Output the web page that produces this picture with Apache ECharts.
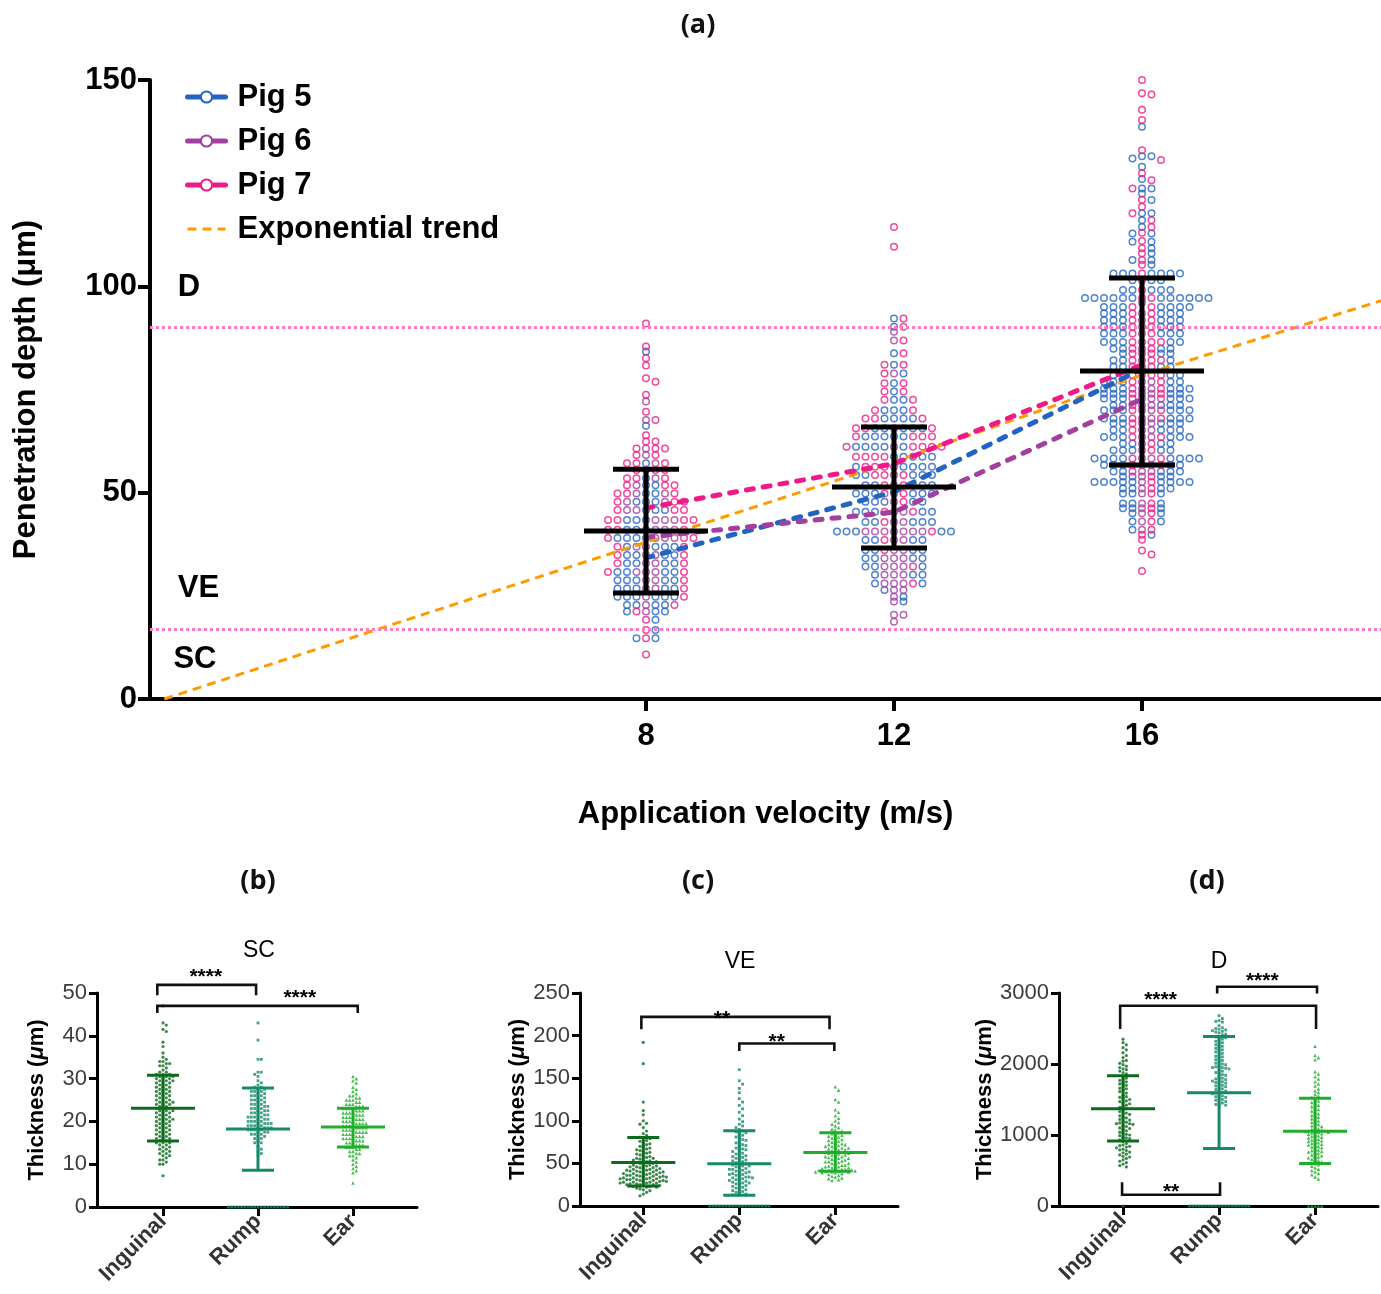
<!DOCTYPE html>
<html><head><meta charset="utf-8">
<script src="https://cdn.jsdelivr.net/npm/echarts@6/dist/echarts.min.js"></script>
<style>html,body{margin:0;padding:0;background:#fff}#c{width:1381px;height:1294px}</style>
</head><body><div id="c"></div>
<script>
// ---------- (a) data ----------
const velocities = [8, 12, 16];
const pigNames = ['Pig 5', 'Pig 6', 'Pig 7'];
const pig5Means = [34.2, 50.2, 80];
const pig6Means = [39.2, 45.3, 72.7];
const pig7Means = [46.3, 57, 81];
const trendX = [0.23, 4, 8, 12, 16, 19.855];
const trendY = [0, 18.5, 38, 57.5, 78.5, 96.5];
const allMean = [40.7, 51.4, 79.5];
const allUpper = [55.7, 65.9, 102];
const allLower = [25.7, 36.6, 56.7];
const layerLines = [90, 17];
const layerNames = ['D', 'VE', 'SC'];
const layerX = [0.44, 0.44, 0.37];
const layerY = [99.8, 26.9, 9.5];

const p5v8 = [84.2,66.2,57.1,53.5,51.8,51.8,49.8,49.8,47.8,47.8,47.8,45.8,45.8,45.8,43.4,43.4,43.4,41,41,41,39,39,39,39,36.9,36.9,36.9,36.9,34.9,34.9,34.9,34.9,32.9,32.9,32.9,32.9,30.8,30.8,30.8,30.8,28.8,28.8,28.8,28.8,28.8,26.8,26.8,26.8,26.8,26.8,24.8,24.8,24.8,24.8,24.8,24.8,22.8,22.8,22.8,22.8,21.2,21.2,21.2,19.2,16.7,14.7,14.7];
const p6v8 = [72.1,67.6,60.7,59.1,57.1,55.5,53.5,51.8,49.8,49.8,47.8,47.8,45.8,45.8,43.4,43.4,43.4,41,41,41,39,39,39,36.9,36.9,34.9,34.9,32.9,32.9,30.8,30.8,30.8,28.8,28.8,26.8,26.8,24.8,22.8,21.2];
const p7v8 = [91,85.4,82.6,80.8,77.7,76.9,73.7,69.6,67.6,63.9,62.4,62.4,60.7,60.7,60.7,59.1,59.1,57.1,57.1,57.1,55.5,55.5,55.5,53.5,53.5,53.5,51.8,51.8,51.8,49.8,49.8,49.8,47.8,47.8,47.8,45.8,45.8,45.8,43.4,43.4,43.4,43.4,41,41,41,39,39,39,36.9,36.9,34.9,34.9,32.9,32.9,30.8,30.8,28.8,26.8,24.8,22.8,21.2,19.2,16.7,14.7,10.8];
const p5v12 = [92.2,90.2,83.8,81,78.9,76.5,74.5,72.5,72.5,70,70,70,68,68,68,68,65.6,65.6,65.6,65.6,65.6,63.6,63.6,63.6,63.6,63.6,61.1,61.1,61.1,61.1,61.1,58.7,58.7,58.7,58.7,58.7,56.3,56.3,56.3,56.3,56.3,54.3,54.3,54.3,54.3,54.3,51.8,51.8,51.8,51.8,51.8,49.8,49.8,49.8,49.8,49.8,49.8,47.8,47.8,47.8,47.8,47.8,45.4,45.4,45.4,45.4,45.4,42.9,42.9,42.9,42.9,42.9,40.6,40.6,40.6,40.6,40.6,38.5,38.5,38.5,38.5,36.1,36.1,36.1,36.1,34.1,34.1,34.1,34.1,32.1,32.1,32.1,30.1,30.1,30.1,28,28,26.4,24.8,23.6];
const p6v12 = [89,86.9,78.9,65.6,61.1,56.3,54.3,51.8,49.8,47.8,45.4,45.4,42.9,42.9,40.6,40.6,40.6,40.6,40.6,40.6,40.6,38.5,38.5,36.1,36.1,34.1,34.1,34.1,32.1,32.1,32.1,30.1,30.1,30.1,28,28,28,26.4,26.4,24.8,23.6,20.4,20.4,18.7];
const p7v12 = [114.4,109.6,92.2,90.2,86.9,83.8,81,81,78.9,76.5,76.5,74.5,74.5,72.5,72.5,70,70,68,68,68,65.6,65.6,65.6,63.6,63.6,63.6,63.6,61.1,61.1,61.1,61.1,61.1,58.7,58.7,58.7,58.7,56.3,56.3,56.3,54.3,54.3,54.3,51.8,51.8,49.8,49.8,47.8,45.4,45.4,42.9,40.6,38.5,36.1,32.1,28];
const p5v16 = [138.7,131.5,131.5,131,129,126,123.7,123.7,122.5,120.9,117.7,117.7,116,114.4,112.8,112.8,110.8,110.8,109.2,108,106.4,106.4,105.2,103.1,103.1,103.1,103.1,103.1,103.1,103.1,101.5,101.5,101.5,99.1,99.1,99.1,99.1,99.1,
97.2,97.2,97.2,97.2,97.2,97.2,97.2,97.2,97.2,97.2,97.2,97.2,95,95,95,95,95,95,95,93.4,93.4,93.4,93.4,93.4,93.4,91.8,91.8,91.8,91.8,91.8,91.8,90.2,90.2,90.2,90.2,90.2,90.2,88.6,88.6,88.6,88.6,88.6,88.6,86.5,86.5,86.5,86.5,86.5,84.9,84.9,84.9,84.9,83.7,83.7,83.7,82.1,82.1,82.1,80.5,80.5,80.5,80.5,78.5,78.5,78.5,78.5,76.9,76.9,76.9,76.9,76.9,75.2,75.2,75.2,75.2,75.2,75.2,74,74,74,74,74,72.8,72.8,72.8,72.8,72.8,72.8,71.2,71.2,71.2,71.2,71.2,70,70,70,70,70,70,68,68,68,68,68,68,66.8,66.8,66.8,66.8,66.8,65.2,65.2,65.2,65.2,65.2,63.5,63.5,63.5,63.5,63.5,63.5,61.9,61.9,61.9,61.9,60.3,60.3,60.3,60.3,60.3,58.3,58.3,58.3,58.3,58.3,58.3,58.3,58.3,56.7,56.7,56.7,56.7,56.7,55.1,55.1,55.1,55.1,55.1,53.9,53.9,53.9,53.9,52.6,52.6,52.6,52.6,52.6,52.6,52.6,52.6,52.6,51,51,51,51,49.8,49.8,49.8,47.4,47.4,47.4,46.2,46.2,46.2,45,45,43,43,41,39.8];
const p6v16 = [96,93.4,91.8,90.2,88.6,86.5,84.9,83.7,82.1,80.5,78.5,76.9,76.9,75.2,75.2,74,74,72.8,72.8,71.2,71.2,70,70,68,68,66.8,66.8,65.2,65.2,63.5,63.5,61.9,60.3,58.3,58.3,56.7,56.7,55.1,55.1,53.9,52.6,51,49.8,47.4,46.2,45,43,41];
const p7v16 = [150,146.8,146.5,142.8,140.3,133,130.6,127.4,125.7,123.7,121,119.3,117.7,116,114.4,113,111,109.2,108,106.4,105.2,103.1,101.5,99.1,97.2,97.2,95,95,93.4,93.4,91.8,91.8,90.2,90.2,88.6,88.6,86.5,86.5,86.5,84.9,84.9,83.7,83.7,82.1,82.1,82.1,80.5,80.5,78.5,78.5,78.5,76.9,76.9,75.2,75.2,74,74,72.8,72.8,71.2,70,70,68,68,66.8,65.2,63.5,63.5,61.9,60.3,58.3,58.3,56.7,56.7,55.1,53.9,52.6,51,49.8,47.4,46.2,45,43,41,39.8,38.6,36,35,31];

// ---------- (b)(c)(d) data ----------
const sites = ['Inguinal', 'Rump', 'Ear'];
const scIng = [47,43,42.5,41.5,41,38.5,37.5,36,35,34.5,34,34,33.5,33.5,33,33,32.5,32,31.5,31.5,31,31,31,30.5,30.5,30.5,30,30,30,29.5,29.5,29.5,29,29,29,28.5,28.5,28,28,28,27.5,27.5,27,27,27,26.5,26.5,26,26,26,25.5,25.5,25,25,25,24.5,24.5,24.5,24,24,24,23.5,23.5,23,23,23,22.5,22.5,22.5,22,22,22,21.5,21.5,21,21,21,20.5,20.5,20.5,20,20,20,19.5,19.5,19,19,19,18.5,18.5,18,18,18,17.5,17.5,17,17,17,16.5,16.5,16,16,16,15.5,15.5,15,15,15,14.5,14.5,14,14,13.5,13.5,13,13,12.5,12.5,12,12,11.5,11,11,10.5,10,10,7.3];
const scRump = [43,39,34.5,34.5,31.5,31.5,31,30.5,29.5,29,28.5,28,28,27.5,27.5,27,27,27,26.5,26.5,26,26,26,25.5,25.5,25,25,25,24.5,24.5,24,24,24,23.5,23.5,23.5,23,23,23,22.5,22.5,22.5,22,22,22,21.5,21.5,21.5,21,21,21,21,20.5,20.5,20.5,20,20,20,20,19.5,19.5,19.5,19.5,19,19,19,19,18.5,18.5,18.5,18.5,18,18,18,18,17.5,17.5,17.5,17,17,17,16.5,16.5,16,16,15.5,15,15,14,13.5,13,12.5,12,0,0,0,0,0,0,0,0,0,0,0,0,0,0,0,0,0,0,0];
const scEar = [30.5,30,29.5,29,28,27.5,27,26.5,26,26,25.5,25.5,25,25,25,24.5,24.5,24,24,24,23.5,23.5,23.5,23,23,23,23,22.5,22.5,22.5,22,22,22,22,21.5,21.5,21.5,21,21,21,21,20.5,20.5,20.5,20,20,20,20,19.5,19.5,19.5,19.5,19,19,19,19,18.5,18.5,18.5,18.5,18,18,18,18,17.5,17.5,17.5,17.5,17,17,17,17,16.5,16.5,16.5,16,16,16,16,15.5,15.5,15.5,15,15,15,14.5,14.5,14.5,14,14,14,13.5,13.5,13,13,12.5,12.5,12,12,11.5,11,10.5,10,9.5,9,8.5,8,5.6];
const veIng = [192,167,122,112,107,100,97,96,92,88,85,83,81,80,79,77,76,74,73,72,70,69,68,67,66,65,64,63,62,61,60,59,58,57,56,56,55,54,54,53,52,52,51,50,50,49,48,48,47,47,46,46,45,45,44,44,43,43,42,42,42,41,41,40,40,40,39,39,38,38,38,37,37,36,36,36,35,35,35,34,34,34,33,33,33,32,32,32,31,31,31,30,30,30,29,29,29,28,28,28,27,27,27,26,26,25,25,25,24,24,23,23,22,22,21,20,19,18,16,14,12];
const veRump = [160,147,143,138,133,126,122,118,114,110,106,102,99,96,94,92,90,88,87,86,85,83,81,80,78,77,75,74,72,71,70,68,67,66,65,64,62,61,60,59,58,57,56,55,54,53,52,51,50,49,48,47,47,46,45,44,43,43,42,41,40,40,39,38,37,37,36,35,34,34,33,33,32,31,30,30,29,28,27,27,26,25,24,23,22,21,20,19,18,17,16,15,14,13,0,0,0,0,0,0,0,0,0,0,0,0,0,0,0,0,0,0,0];
const veEar = [140,136,125,122,113,110,106,103,100,98,96,94,92,90,89,88,86,85,84,83,82,81,80,79,78,77,76,75,74,73,72,72,71,70,70,69,68,68,67,66,66,65,64,64,63,62,62,61,60,60,59,58,58,57,56,56,55,54,54,53,52,52,51,50,50,49,48,48,47,46,46,45,45,44,44,43,43,42,42,42,41,41,41,40,40,40,39,39,38,37,36,35,34,33,32,31,30];
const dIng = [2350,2300,2270,2230,2200,2160,2120,2090,2050,2040,2010,1990,1970,1950,1930,1920,1900,1880,1860,1830,1800,1780,1770,1750,1730,1720,1700,1680,1660,1650,1630,1610,1590,1560,1540,1530,1510,1500,1480,1470,1450,1440,1420,1400,1390,1370,1350,1330,1310,1300,1290,1270,1250,1240,1220,1210,1190,1180,1170,1160,1160,1150,1130,1120,1100,1090,1080,1060,1040,1030,1010,1000,990,970,960,950,930,910,880,860,850,840,830,820,800,790,780,760,750,730,720,700,690,670,650,630,610,590,570,550,0];
const dRump = [2680,2640,2610,2600,2590,2540,2510,2500,2490,2480,2470,2460,2450,2440,2420,2410,2390,2380,2370,2350,2340,2320,2300,2290,2270,2250,2240,2220,2200,2190,2170,2150,2130,2110,2100,2080,2060,2050,2030,2010,2000,1990,1970,1960,1950,1950,1940,1930,1920,1900,1880,1870,1850,1840,1820,1800,1790,1780,1770,1760,1750,1740,1730,1720,1700,1690,1680,1660,1650,1640,1620,1610,1600,1590,1580,1560,1550,1540,1530,1510,1500,1490,1470,1460,1450,1430,1420,1410,0,0,0,0,0,0,0,0,0,0,0,0,0,0,0,0,0,0,0];
const dEar = [2250,2120,2090,2060,1890,1860,1820,1790,1750,1720,1690,1650,1620,1600,1570,1550,1530,1500,1480,1460,1440,1420,1400,1380,1360,1340,1320,1300,1280,1260,1250,1230,1210,1200,1180,1160,1150,1130,1120,1100,1090,1080,1070,1060,1060,1050,1050,1040,1040,1030,1020,1010,1000,990,980,970,960,950,940,930,920,910,900,890,880,870,860,850,840,830,820,800,790,780,770,760,750,740,720,710,700,690,680,660,650,640,620,610,600,580,560,540,520,500,480,460,440,410,380,0,0,0,0,0];

const scMean = [23.1, 18.2, 18.7], scUpper = [30.8, 27.8, 23.1], scLower = [15.4, 8.6, 14.0];
const veMean = [51.2, 49.6, 62.9], veUpper = [80.5, 88.3, 86], veLower = [23.4, 12.5, 40.7];
const dMean = [1371, 1596, 1053], dUpper = [1835, 2386, 1516], dLower = [917, 810, 599];

// brackets: [xStart, xEnd, yBar, yEnd]
const scBrackets = [[-0.06, 0.98, 51.9, 49.5], [-0.06, 2.05, 47.0, 45.3]];
const scStars = [[0.45, 53.7, '****'], [1.44, 48.9, '****']];
const veBrackets = [[-0.02, 1.94, 222, 207.5], [1.0, 1.99, 190.7, 182]];
const veStars = [[0.82, 219.2, '**'], [1.39, 192.6, '**']];
const dBrackets = [[-0.03, 2.01, 2821, 2494], [0.98, 2.02, 3088, 2994], [-0.01, 1.01, 159, 333]];
const dStars = [[0.39, 2892, '****'], [1.45, 3172, '****'], [0.5, 201, '**']];

// ---------- layout helpers ----------
const FONT = 'Liberation Sans';
const pigColors = ['#2364c2', '#a2409f', '#ef1a86'];
const siteColors = ['#0b6a1d', '#15896a', '#1fad2b'];
const siteSymbols = ['circle', 'rect', 'triangle'];

function swarm(groups, center, pxPerUnit, colW, thr) {
  const pts = [];
  groups.forEach((arr, g) => arr.forEach((v, i) => pts.push({v, g, i})));
  pts.sort((a, b) => (b.v - a.v) || (a.i - b.i) || (a.g - b.g));
  const placed = [];
  const out = groups.map(() => []);
  for (const p of pts) {
    const py = p.v * pxPerUnit;
    for (let k = 0; k < 400; k++) {
      const col = k === 0 ? 0 : (k % 2 ? (k + 1) / 2 : -k / 2);
      let ok = true;
      for (const q of placed) { if (q.col === col && Math.abs(q.py - py) < thr) { ok = false; break; } }
      if (ok) { placed.push({col, py}); out[p.g].push([center + col * colW, p.v]); break; }
    }
  }
  return out;
}

const groupsByVel = [[p5v8, p6v8, p7v8], [p5v12, p6v12, p7v12], [p5v16, p6v16, p7v16]];
const pigPts = [[], [], []];
groupsByVel.forEach((grp, vi) => {
  const s = swarm(grp, velocities[vi], 619 / 150, 9.5 / 62, 4.5);
  s.forEach((arr, g) => pigPts[g].push(...arr));
});

const series = [];
pigPts.forEach((pts, g) => series.push({
  type: 'scatter', name: 'pts' + g, xAxisIndex: 0, yAxisIndex: 0, data: pts, z: 2,
  symbol: 'circle', symbolSize: 6.5, silent: true,
  itemStyle: {color: 'rgba(255,255,255,0)', borderColor: pigColors[g], borderWidth: 1.5}
}));
[pig5Means, pig6Means, pig7Means].forEach((m, g) => series.push({
  type: 'line', name: pigNames[g], xAxisIndex: 0, yAxisIndex: 0, z: 4,
  data: velocities.map((v, i) => [v, m[i]]),
  symbol: 'emptyCircle', symbolSize: 7, showSymbol: false,
  itemStyle: {color: pigColors[g], borderColor: pigColors[g], borderWidth: 1.5},
  lineStyle: {color: pigColors[g], width: 5, type: [7, 10], cap: 'round'}
}));
series.push({
  type: 'line', name: 'Exponential trend', xAxisIndex: 0, yAxisIndex: 0, z: 3,
  data: trendX.map((x, i) => [x, trendY[i]]), symbol: 'none',
  itemStyle: {color: '#ff9a00'},
  lineStyle: {color: '#ff9a00', width: 3, type: [9, 6]},
  markLine: {silent: true, symbol: 'none', label: {show: false}, animation: false,
    lineStyle: {color: '#ff7cc2', width: 3, type: [3, 3]},
    data: layerLines.map(y => ({yAxis: y}))}
});
series.push({
  type: 'custom', xAxisIndex: 0, yAxisIndex: 0, z: 6,
  data: velocities.map((v, i) => [v, allMean[i], allUpper[i], allLower[i]]),
  renderItem(p, api) {
    const x = api.value(0);
    const m = api.coord([x, api.value(1)]), u = api.coord([x, api.value(2)]), l = api.coord([x, api.value(3)]);
    const st = {stroke: '#000', lineWidth: 5};
    return {type: 'group', children: [
      {type: 'line', shape: {x1: m[0] - 62, y1: m[1], x2: m[0] + 62, y2: m[1]}, style: st},
      {type: 'line', shape: {x1: u[0], y1: u[1], x2: l[0], y2: l[1]}, style: st},
      {type: 'line', shape: {x1: u[0] - 33, y1: u[1], x2: u[0] + 33, y2: u[1]}, style: st},
      {type: 'line', shape: {x1: l[0] - 33, y1: l[1], x2: l[0] + 33, y2: l[1]}, style: st}
    ]};
  }
});
series.push({
  type: 'scatter', xAxisIndex: 0, yAxisIndex: 0, symbolSize: 1, silent: true, z: 7,
  itemStyle: {color: 'rgba(0,0,0,0)'},
  data: layerNames.map((n, i) => ({name: n, value: [layerX[i], layerY[i]]})),
  label: {show: true, position: 'right', distance: 0, formatter: p => p.name, opacity: 1,
    fontFamily: FONT, fontSize: 31, fontWeight: 'bold', color: '#000'}
});

function panel(gi, groups, mean, upper, lower, brackets, stars, pxPerUnit, colW) {
  groups.forEach((vals, c) => {
    const pts = swarm([vals], c, pxPerUnit, colW, 3.5)[0];
    series.push({type: 'scatter', xAxisIndex: gi, yAxisIndex: gi, data: pts, silent: true, clip: false, z: 3,
      symbol: siteSymbols[c], symbolSize: c === 2 ? 3.6 : (c === 1 ? 2.8 : 3.2),
      itemStyle: {color: siteColors[c]}});
  });
  series.push({type: 'custom', xAxisIndex: gi, yAxisIndex: gi, z: 5,
    data: mean.map((m, i) => [i, m, upper[i], lower[i]]),
    renderItem(p, api) {
      const x = api.value(0), col = siteColors[x];
      const m = api.coord([x, api.value(1)]), u = api.coord([x, api.value(2)]), l = api.coord([x, api.value(3)]);
      const st = {stroke: col, lineWidth: 3};
      return {type: 'group', children: [
        {type: 'line', shape: {x1: m[0] - 32, y1: m[1], x2: m[0] + 32, y2: m[1]}, style: st},
        {type: 'line', shape: {x1: u[0], y1: u[1], x2: l[0], y2: l[1]}, style: st},
        {type: 'line', shape: {x1: u[0] - 16, y1: u[1], x2: u[0] + 16, y2: u[1]}, style: st},
        {type: 'line', shape: {x1: l[0] - 16, y1: l[1], x2: l[0] + 16, y2: l[1]}, style: st}
      ]};
    }});
  series.push({type: 'custom', xAxisIndex: gi, yAxisIndex: gi, z: 5, clip: false,
    data: brackets,
    renderItem(p, api) {
      const a = api.coord([api.value(0), api.value(3)]), b = api.coord([api.value(0), api.value(2)]);
      const c = api.coord([api.value(1), api.value(2)]), d = api.coord([api.value(1), api.value(3)]);
      return {type: 'polyline', shape: {points: [a, b, c, d]}, style: {stroke: '#111', lineWidth: 2.6, fill: null}};
    }});
  series.push({type: 'scatter', xAxisIndex: gi, yAxisIndex: gi, symbolSize: 1, silent: true, clip: false, z: 6,
    itemStyle: {color: 'rgba(0,0,0,0)'},
    data: stars.map(s => ({name: s[2], value: [s[0], s[1]]})),
    label: {show: true, position: 'inside', formatter: p => p.name, opacity: 1,
      fontFamily: FONT, fontSize: 21, fontWeight: 'bold', color: '#000'}});
}
panel(1, [scIng, scRump, scEar], scMean, scUpper, scLower, scBrackets, scStars, 214 / 50, 3.3 / 95);
panel(2, [veIng, veRump, veEar], veMean, veUpper, veLower, veBrackets, veStars, 213.3 / 250, 3.3 / 96);
panel(3, [dIng, dRump, dEar], dMean, dUpper, dLower, dBrackets, dStars, 213.7 / 3000, 3.3 / 96);

function smallY(gi, max, interval) {
  return {type: 'value', gridIndex: gi, min: 0, max: max, interval: interval, splitLine: {show: false},
    axisLine: {show: true, onZero: false, lineStyle: {color: '#000', width: 3}},
    axisTick: {show: true, length: 8, lineStyle: {color: '#000', width: 3}},
    axisLabel: {fontFamily: FONT, fontSize: 22, color: '#3c3c3c', margin: 10, formatter: v => String(v)},
    name: 'Thickness ({i|μ}m)', nameLocation: 'middle', nameGap: 49, nameRotate: 90,
    nameTextStyle: {fontFamily: FONT, fontSize: 22, fontWeight: 'bold', color: '#000',
      rich: {i: {fontFamily: FONT, fontSize: 22, fontWeight: 'bold', fontStyle: 'italic', color: '#000'}}}};
}
function smallX(gi, min, max) {
  return {type: 'value', gridIndex: gi, min: min, max: max, splitLine: {show: false},
    axisLine: {show: true, onZero: false, lineStyle: {color: '#000', width: 3}},
    axisTick: {show: true, customValues: [0, 1, 2], length: 9, lineStyle: {color: '#000', width: 3}},
    axisLabel: {customValues: [0, 1, 2], formatter: v => sites[Math.round(v)], rotate: 45, margin: 11,
      fontFamily: FONT, fontSize: 22, fontWeight: 'bold', color: '#333'}};
}

const titleFont = {fontFamily: 'Open Sans', fontSize: 27, fontWeight: 'bold', fill: '#111', align: 'center', verticalAlign: 'middle'};
const subFont = {fontFamily: FONT, fontSize: 23, fill: '#000', align: 'center', verticalAlign: 'middle'};
const panelTitles = [['(a)', 698, 25], ['(b)', 258, 881], ['(c)', 698, 881], ['(d)', 1207, 881]];
const subTitles = [['SC', 259, 951], ['VE', 740, 962], ['D', 1219, 962]];

const option = {
  animation: false,
  backgroundColor: '#fff',
  textStyle: {fontFamily: FONT},
  graphic: [
    ...panelTitles.map(t => ({type: 'text', x: t[1], y: t[2], style: Object.assign({text: t[0]}, titleFont)})),
    ...subTitles.map(t => ({type: 'text', x: t[1], y: t[2], style: Object.assign({text: t[0]}, subFont)}))
  ],
  legend: {orient: 'vertical', left: 180, top: 75, itemWidth: 38, itemHeight: 14, itemGap: 10,
    data: [
      {name: 'Pig 5', lineStyle: {width: 5, type: 'solid'}},
      {name: 'Pig 6', lineStyle: {width: 5, type: 'solid'}},
      {name: 'Pig 7', lineStyle: {width: 5, type: 'solid'}},
      {name: 'Exponential trend', itemStyle: {opacity: 0}, lineStyle: {width: 3, type: [9, 6]}}
    ],
    textStyle: {fontFamily: FONT, fontSize: 31, fontWeight: 'bold', color: '#000', lineHeight: 34, padding: [0, 0, 0, 7]}},
  grid: [
    {left: 150, top: 80, width: 1231, height: 619},
    {left: 97, top: 993, width: 320, height: 214},
    {left: 580, top: 993, width: 318, height: 213},
    {left: 1059, top: 993, width: 319, height: 213}
  ],
  xAxis: [
    {type: 'value', gridIndex: 0, min: 0, max: 19.855, splitLine: {show: false},
      axisLine: {show: true, onZero: false, lineStyle: {color: '#000', width: 4}},
      axisTick: {show: true, customValues: velocities, length: 12, lineStyle: {color: '#000', width: 4}},
      axisLabel: {customValues: velocities, fontFamily: FONT, fontSize: 31, fontWeight: 'bold', color: '#000', margin: 22},
      name: 'Application velocity (m/s)', nameLocation: 'middle', nameGap: 100,
      nameTextStyle: {fontFamily: FONT, fontSize: 31, fontWeight: 'bold', color: '#000'}},
    smallX(1, -0.695, 2.674), smallX(2, -0.659, 2.653), smallX(3, -0.667, 2.655)
  ],
  yAxis: [
    {type: 'value', gridIndex: 0, min: 0, max: 150, interval: 50, splitLine: {show: false},
      axisLine: {show: true, onZero: false, lineStyle: {color: '#000', width: 4}},
      axisTick: {show: true, length: 12, lineStyle: {color: '#000', width: 4}},
      axisLabel: {fontFamily: FONT, fontSize: 31, fontWeight: 'bold', color: '#000', margin: 13},
      name: 'Penetration depth (μm)', nameLocation: 'middle', nameGap: 108, nameRotate: 90,
      nameTextStyle: {fontFamily: FONT, fontSize: 31, fontWeight: 'bold', color: '#000'}},
    smallY(1, 50, 10), smallY(2, 250, 50), smallY(3, 3000, 1000)
  ],
  series: series
};
const chart = echarts.init(document.getElementById('c'), null, {renderer: 'canvas'});
chart.setOption(option);
</script></body></html>
